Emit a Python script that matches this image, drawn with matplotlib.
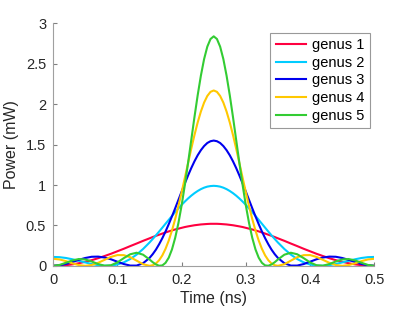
import matplotlib
matplotlib.use("Agg")
import matplotlib.pyplot as plt

plt.rcParams['font.family'] = ['Liberation Sans', 'DejaVu Sans']

# time axis (ns): coarse on the flanks, finer around the pulse peak
time_ns = ([round(0.01 * i, 3) for i in range(16)]
           + [round(0.155 + 0.005 * i, 3) for i in range(39)]
           + [round(0.35 + 0.01 * i, 3) for i in range(16)])

# optical power (mW)
genus1 = [0, 0.002, 0.008, 0.018, 0.032, 0.050, 0.070, 0.094, 0.121, 0.149, 0.180,
          0.211, 0.244, 0.276, 0.309, 0.340,
          0.356, 0.371, 0.385, 0.399, 0.413, 0.426, 0.438, 0.450, 0.460, 0.470,
          0.480, 0.488, 0.495, 0.502, 0.507, 0.512, 0.515, 0.518, 0.520, 0.520,
          0.520, 0.518, 0.515, 0.512, 0.507, 0.502, 0.495, 0.488, 0.480, 0.470,
          0.460, 0.450, 0.438, 0.426, 0.413, 0.399, 0.385, 0.371, 0.356,
          0.340, 0.309, 0.276, 0.244, 0.211, 0.180, 0.149, 0.121, 0.094, 0.070,
          0.050, 0.032, 0.018, 0.008, 0.002, 0]
genus2 = [0.110, 0.107, 0.097, 0.081, 0.062, 0.042, 0.023, 0.008, 0.001, 0.002, 0.016,
          0.043, 0.084, 0.139, 0.208, 0.288,
          0.332, 0.377, 0.424, 0.472, 0.521, 0.569, 0.617, 0.665, 0.710, 0.754,
          0.795, 0.833, 0.868, 0.899, 0.926, 0.949, 0.967, 0.980, 0.987, 0.990,
          0.987, 0.980, 0.967, 0.949, 0.926, 0.899, 0.868, 0.833, 0.795, 0.754,
          0.710, 0.665, 0.617, 0.569, 0.521, 0.472, 0.424, 0.377, 0.332,
          0.288, 0.208, 0.139, 0.084, 0.043, 0.016, 0.002, 0.001, 0.008, 0.023,
          0.042, 0.062, 0.081, 0.097, 0.107, 0.110]
genus3 = [0, 0.006, 0.023, 0.047, 0.074, 0.097, 0.112, 0.114, 0.103, 0.081, 0.051,
          0.022, 0.003, 0.003, 0.032, 0.097,
          0.144, 0.200, 0.267, 0.342, 0.425, 0.516, 0.612, 0.712, 0.815, 0.918,
          1.019, 1.117, 1.209, 1.293, 1.368, 1.431, 1.482, 1.520, 1.542, 1.550,
          1.542, 1.520, 1.482, 1.431, 1.368, 1.293, 1.209, 1.117, 1.019, 0.918,
          0.815, 0.712, 0.612, 0.516, 0.425, 0.342, 0.267, 0.200, 0.144,
          0.097, 0.032, 0.003, 0.003, 0.022, 0.051, 0.081, 0.103, 0.114, 0.112,
          0.097, 0.074, 0.047, 0.023, 0.006, 0]
genus4 = [0.087, 0.079, 0.058, 0.031, 0.009, 0, 0.010, 0.037, 0.074, 0.110, 0.133,
          0.132, 0.107, 0.064, 0.020, 0,
          0.007, 0.029, 0.069, 0.129, 0.211, 0.313, 0.437, 0.579, 0.738, 0.909,
          1.088, 1.269, 1.448, 1.618, 1.774, 1.909, 2.020, 2.102, 2.153, 2.170,
          2.153, 2.102, 2.020, 1.909, 1.774, 1.618, 1.448, 1.269, 1.088, 0.909,
          0.738, 0.579, 0.437, 0.313, 0.211, 0.129, 0.069, 0.029, 0.007,
          0, 0.020, 0.064, 0.107, 0.132, 0.133, 0.110, 0.074, 0.037, 0.010,
          0, 0.009, 0.031, 0.058, 0.079, 0.087]
genus5 = [0, 0.011, 0.038, 0.067, 0.084, 0.079, 0.054, 0.022, 0.002, 0.007, 0.042,
          0.095, 0.143, 0.162, 0.138, 0.079,
          0.045, 0.017, 0.001, 0.005, 0.037, 0.101, 0.203, 0.346, 0.528, 0.747,
          0.998, 1.270, 1.555, 1.840, 2.110, 2.353, 2.558, 2.712, 2.807, 2.840,
          2.807, 2.712, 2.558, 2.353, 2.110, 1.840, 1.555, 1.270, 0.998, 0.747,
          0.528, 0.346, 0.203, 0.101, 0.037, 0.005, 0.001, 0.017, 0.045,
          0.079, 0.138, 0.162, 0.143, 0.095, 0.042, 0.007, 0.002, 0.022, 0.054,
          0.079, 0.084, 0.067, 0.038, 0.011, 0]

series = [genus1, genus2, genus3, genus4, genus5]
labels = ["genus 1", "genus 2", "genus 3", "genus 4", "genus 5"]
colors = ["#ff0040", "#00ccff", "#0000ee", "#ffc800", "#33cc33"]

fig = plt.figure(figsize=(4.15, 3.12), dpi=100)
ax = fig.add_axes([0.128, 0.148, 0.774, 0.777])

for y, lab, c in zip(series, labels, colors):
    ax.plot(time_ns, y, color=c, lw=1.5, label=lab)

ax.set_xlim(0, 0.5)
ax.set_ylim(0, 3)
ax.set_xticks([0, 0.1, 0.2, 0.3, 0.4, 0.5])
ax.set_xticklabels(["0", "0.1", "0.2", "0.3", "0.4", "0.5"])
ax.set_yticks([0, 0.5, 1, 1.5, 2, 2.5, 3])
ax.set_yticklabels(["0", "0.5", "1", "1.5", "2", "2.5", "3"])

for side in ["top", "right"]:
    ax.spines[side].set_visible(False)
for side in ["left", "bottom"]:
    ax.spines[side].set_color("#a0a0a0")
    ax.spines[side].set_linewidth(0.8)
ax.tick_params(direction="in", length=3, color="#808080", labelsize=10.5,
               labelcolor="#262626", pad=5)

ax.set_xlabel("Time (ns)", fontsize=11.5, color="#262626", labelpad=3)
ax.set_ylabel("Power (mW)", fontsize=11.5, color="#262626", labelpad=5)

leg = ax.legend(loc="upper right", bbox_to_anchor=(0.985, 0.96), borderaxespad=0,
                fontsize=10.5, frameon=True, fancybox=False, handlelength=2.1,
                handletextpad=0.4, labelspacing=0.25, borderpad=0.35)
leg.get_frame().set_edgecolor("#808080")
leg.get_frame().set_linewidth(0.8)

fig.savefig("out.png", dpi=100)
